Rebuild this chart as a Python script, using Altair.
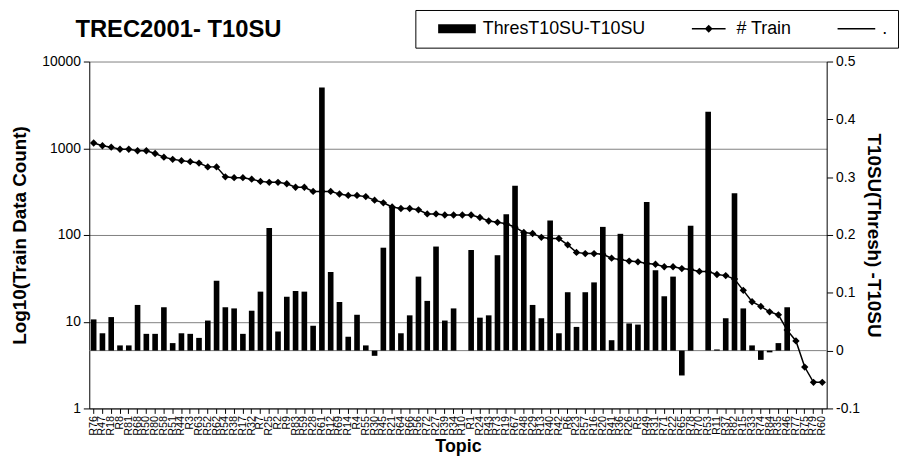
import altair as alt
import pandas as pd

topics = ["R76", "R47", "R18", "R8", "R81", "R68", "R50", "R80", "R58", "R51",
          "R44", "R3", "R63", "R52", "R62", "R54", "R38", "R17", "R32", "R7",
          "R25", "R2", "R9", "R83", "R59", "R28", "R61", "R12", "R69", "R14",
          "R4", "R55", "R30", "R45", "R21", "R64", "R66", "R56", "R72", "R27",
          "R39", "R34", "R10", "R1", "R24", "R43", "R73", "R19", "R67", "R48",
          "R29", "R13", "R40", "R42", "R6", "R23", "R57", "R16", "R20", "R41",
          "R36", "R26", "R5", "R49", "R31", "R71", "R22", "R65", "R78", "R70",
          "R53", "R11", "R37", "R82", "R15", "R33", "R74", "R84", "R35", "R46",
          "R77", "R75", "R79", "R60"]

train_counts = [1150, 1070, 1030, 975, 975, 935, 935, 870, 790, 745,
                720, 700, 675, 610, 610, 468, 458, 458, 440, 415,
                405, 405, 390, 355, 355, 318, 318, 318, 297, 286,
                286, 277, 252, 235, 210, 202, 202, 195, 175, 175,
                170, 170, 170, 170, 159, 145, 140, 135, 123, 107,
                104, 94, 91, 91, 77, 63, 61, 61, 60, 54,
                52, 50, 49, 47, 46, 43, 43, 41, 40, 38,
                38, 35, 34, 31, 23, 17, 15, 13, 12, 8,
                6, 3, 2, 2]

t10su_diff = [0.054, 0.030, 0.058, 0.009, 0.009, 0.079, 0.029, 0.029, 0.075, 0.013,
              0.030, 0.029, 0.022, 0.052, 0.121, 0.075, 0.073, 0.029, 0.069, 0.102,
              0.212, 0.033, 0.093, 0.103, 0.102, 0.043, 0.455, 0.136, 0.084, 0.024,
              0.062, 0.009, -0.009, 0.178, 0.249, 0.030, 0.061, 0.128, 0.086, 0.180,
              0.052, 0.073, 0.000, 0.174, 0.057, 0.061, 0.165, 0.236, 0.285, 0.205,
              0.079, 0.056, 0.225, 0.030, 0.101, 0.041, 0.101, 0.118, 0.214, 0.018,
              0.202, 0.047, 0.045, 0.257, 0.139, 0.094, 0.128, -0.043, 0.216, 0.000,
              0.413, 0.002, 0.056, 0.272, 0.073, 0.009, -0.016, -0.003, 0.013, 0.075,
              0.000, 0.000, 0.000, 0.000]

legend_labels = ["ThresT10SU-T10SU", "# Train", "."]
left_ticks = [1, 10, 100, 1000, 10000]
right_ticks = [-0.1, 0, 0.1, 0.2, 0.3, 0.4, 0.5]
zero_series = [0]

FONT = "Liberation Sans, Arial, sans-serif"

df = pd.DataFrame({"topic": topics, "train": train_counts, "diff": t10su_diff,
                   "idx": list(range(len(topics)))})
zero_df = pd.DataFrame({"v": zero_series})
legend_df = pd.DataFrame({"series": legend_labels})

x_enc = alt.X(
    "topic:N", sort=topics,
    scale=alt.Scale(paddingInner=0.36, paddingOuter=0.18),
    axis=alt.Axis(title="Topic", labelAngle=-90, labelFontSize=11, labelOverlap=False,
                  labelPadding=2, tickSize=5, tickColor="black", domainColor="black",
                  labelColor="black", titleColor="black", titleFontSize=18,
                  titleFontWeight="bold", titlePadding=2, grid=False,
                  labelFont=FONT, titleFont=FONT),
)

right_axis = alt.Axis(
    orient="right", values=right_ticks, grid=False, tickSize=6, labelPadding=3,
    tickColor="black", domainColor="black", labelColor="black", labelFontSize=14,
    labelExpr="abs(datum.value) < 1e-9 ? '0' : (datum.value < 0 ? '-' + format(-datum.value, '.1f') : format(datum.value, '.1f'))",
    title="T10SU(Thresh) -T10SU", titleFontSize=19, titleFontWeight="bold",
    titleColor="black", titlePadding=4, labelFont=FONT, titleFont=FONT,
)

left_axis = alt.Axis(
    orient="left", values=left_ticks, format="d", grid=True, gridColor="#808080",
    gridWidth=1, tickSize=6, labelPadding=3, tickColor="black", domainColor="black",
    labelColor="black", labelFontSize=14, title="Log10(Train Data Count)",
    titleFontSize=19, titleFontWeight="bold", titleColor="black", titlePadding=12,
    labelFont=FONT, titleFont=FONT,
)

diff_scale = alt.Scale(domain=[-0.1, 0.5], nice=False)
train_scale = alt.Scale(type="log", domain=[1, 10000], nice=False)

bars = alt.Chart(df).mark_bar(color="black").encode(
    x=x_enc,
    y=alt.Y("diff:Q", scale=diff_scale, axis=right_axis),
)
zero_line = alt.Chart(zero_df).mark_rule(color="#808080", strokeWidth=1).encode(
    y=alt.Y("v:Q", scale=diff_scale, axis=right_axis),
)
diff_layer = alt.layer(zero_line, bars)

line = alt.Chart(df).mark_line(color="black", strokeWidth=1.5).encode(
    x=x_enc,
    y=alt.Y("train:Q", scale=train_scale, axis=left_axis),
    order=alt.Order("idx:Q"),
)
points = alt.Chart(df).mark_point(shape="diamond", filled=True, color="black",
                                  size=55, opacity=1).encode(
    x=x_enc,
    y=alt.Y("train:Q", scale=train_scale, axis=left_axis),
)
train_layer = alt.layer(line, points)

# legend symbols (unit space, scaled by sqrt(symbolSize)/2)
sym_bar = "M-0.52,-0.18H1V0.18H-0.52Z"
sym_line_diamond = "M-0.52,-0.03H0.84V0.03H-0.52Z M0,0L0.16,-0.16L0.32,0L0.16,0.16Z"
sym_line = "M-0.52,-0.03H1V0.03H-0.52Z"

legend_layer = alt.Chart(legend_df).mark_point(
    opacity=0, filled=True, fill="black"
).encode(
    shape=alt.Shape(
        "series:N",
        scale=alt.Scale(domain=legend_labels, range=[sym_bar, sym_line_diamond, sym_line]),
        legend=alt.Legend(
            title=None, orient="none", legendX=329, legendY=-52, direction="horizontal",
            symbolSize=2500, clipHeight=18, symbolOpacity=1, symbolFillColor="black",
            labelFontSize=18, labelFont=FONT, labelColor="black", labelOffset=6,
            columnPadding=33, labelLimit=400, padding=10, strokeColor="black",
            fillColor="white",
        ),
    ),
)

chart = alt.layer(diff_layer, train_layer, legend_layer).resolve_scale(
    y="independent"
).properties(
    width=744,
    height=350,
    title=alt.TitleParams("TREC2001- T10SU", anchor="start", frame="group", fontSize=24,
                          fontWeight="bold", font=FONT, color="black", dx=-14, offset=-33),
    padding={"left": 82, "top": 52, "right": 76, "bottom": 48},
    autosize=alt.AutoSizeParams(type="none"),
).configure_view(stroke=None)

chart.save("out.html", embed_options={"renderer": "svg", "actions": False})
